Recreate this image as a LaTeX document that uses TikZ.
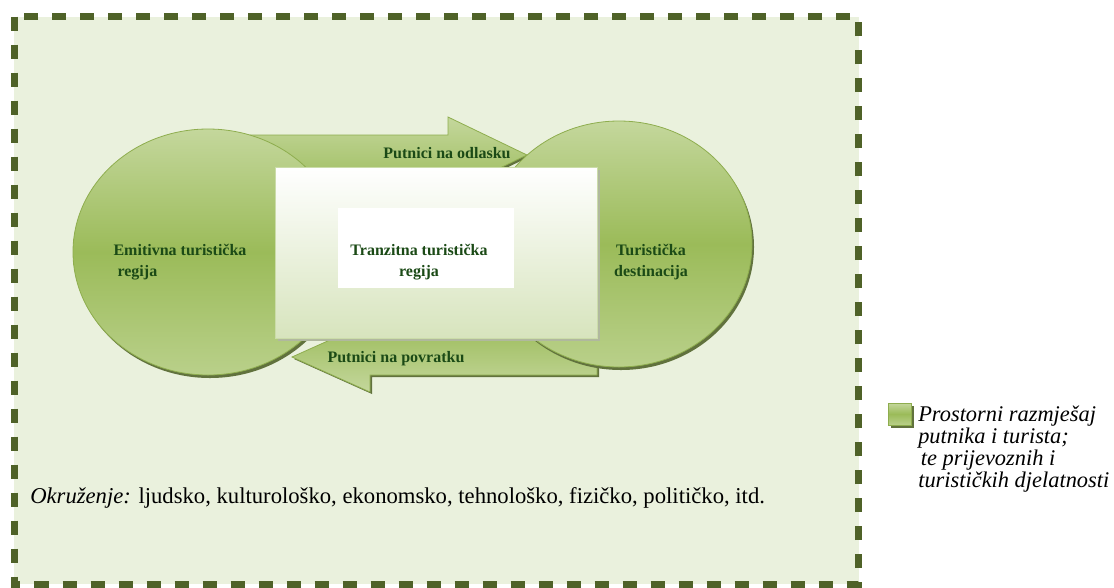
\documentclass[tikz,border=0pt]{standalone}
\usepackage{fontspec}
\setmainfont{Liberation Serif}
\definecolor{olivedark}{HTML}{4F6228}
\definecolor{framefill}{HTML}{EAF1DD}
\definecolor{olive}{HTML}{9BBB59}
\definecolor{olivelight}{HTML}{C4D79C}
\definecolor{olivelow}{HTML}{B9D08A}
\definecolor{oliveedge}{HTML}{8EAD4E}
\definecolor{olivepale}{HTML}{D7E4BD}
\definecolor{textgreen}{HTML}{1B4A16}

\begin{document}
\begin{tikzpicture}[x=0.75pt,y=-0.75pt,
    region/.style={top color=olivelight, bottom color=olivelow, middle color=olive, draw=oliveedge, line width=0.6pt},
    flow/.style={draw=oliveedge, line width=0.6pt},
    shadowfill/.style={fill=olivedark!90},
    regiontext/.style={font=\fontsize{12}{15.5}\selectfont\bfseries, text=textgreen, inner sep=0pt}]
    \useasboundingbox (0,0) rectangle (1114,587);
    \fill[framefill] (14,16.5) rectangle (858.5,584);
    \draw[olivedark, line width=5.25pt, dash pattern=on 10.5pt off 10.5pt] (14,16.5) rectangle (858.5,584);
    \fill[shadowfill] (250,137) -- (450,137) -- (450,119) -- (529,157) -- (450,195) -- (450,177) -- (250,177) -- cycle;
    \path[flow, top color=olivelight, bottom color=olive] (250,135) -- (448,135) -- (448,117) -- (527,155) -- (448,193) -- (448,175) -- (250,175) -- cycle;
    \fill[shadowfill] (599,342) -- (372,342) -- (372,324) -- (294,359) -- (372,394) -- (372,377) -- (599,377) -- cycle;
    \path[flow, top color=olive, bottom color=olivelight] (597,340) -- (370,340) -- (370,322) -- (292,357) -- (370,392) -- (370,375) -- (597,375) -- cycle;
    \fill[shadowfill] (210,255) ellipse [x radius=101.25pt, y radius=92.25pt];
    \path[region] (208,252) ellipse [x radius=101.25pt, y radius=92.25pt];
    \fill[shadowfill] (621,247) ellipse [x radius=99.75pt, y radius=92.25pt];
    \path[region] (619,244) ellipse [x radius=99.75pt, y radius=92.25pt];
    \fill[olivedark!45] (278,170) rectangle (600,341);
    \path[top color=white, bottom color=olivepale, draw=olivepale!80!olive, line width=0.5pt] (275,167) rectangle (597,338);
    \fill[white] (338,208) rectangle (514,288);
    \node[regiontext] (out) at (447,153) {Putnici na odlasku};
    \node[regiontext] (back) at (396,359) {Putnici na povratku};
    \node[regiontext, align=center] (transit) at (419,262) {Tranzitna turistička\\regija};
    \node[regiontext, align=left] (origin) at (180,262) {Emitivna turistička\\\hspace*{3pt}regija};
    \node[regiontext, align=center] (dest) at (651,262) {Turistička\\destinacija};
    \node[anchor=base west, inner sep=0pt, font=\fontsize{17}{19}\selectfont] (env) at (30,503) {\textit{Okruženje:} ljudsko, kulturološko, ekonomsko, tehnološko, fizičko, političko, itd.};
    \fill[shadowfill] (891,406) rectangle (914,428);
    \path[region] (888,403) rectangle (911,425);
    \node[anchor=base west, inner sep=0pt, align=left, font=\fontsize{16.8}{16.5}\selectfont\itshape] (legend) at (918,487) {Prostorni razmješaj\\putnika i turista;\\\hspace*{2pt}te prijevoznih i\\turističkih djelatnosti};
\end{tikzpicture}
\end{document}
